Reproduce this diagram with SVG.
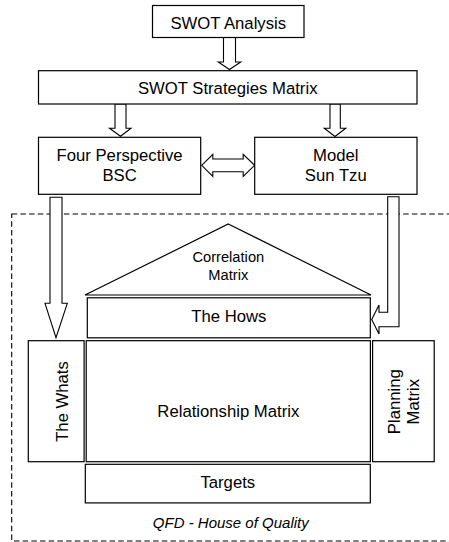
<svg xmlns="http://www.w3.org/2000/svg" width="449" height="542" viewBox="0 0 449 542">
<style>
.box{fill:#fff;stroke:#000;stroke-width:1.2}
.arr{fill:#fff;stroke:#000;stroke-width:1.1;stroke-linejoin:miter}
text{font-family:"Liberation Sans",Arial,sans-serif;font-size:16.7px;fill:#000;text-anchor:middle}
.sm{font-size:14.7px}
.it{font-size:15px;font-style:italic}
</style>
<rect width="449" height="542" fill="#fff"/>
<g id="frame">
<rect x="11.7" y="214" width="445" height="327" fill="none" stroke="#000" stroke-width="1.1" stroke-dasharray="5.5,3.2"/>
<text class="it" x="230.8" y="528.3">QFD - House of Quality</text>
</g>
<g id="connectors">
<polygon class="arr" points="223.5,37.5 235.5,37.5 235.5,62 240.7,62 229.5,69.5 218.3,62 223.5,62"/>
<polygon class="arr" points="115,104 126,104 126,128.3 131,128.3 120.5,136.3 109.5,128.3 115,128.3"/>
<polygon class="arr" points="330,104 340.3,104 340.3,128.3 345.7,128.3 335,136.5 324.3,128.3 330,128.3"/>
<polygon class="arr" points="201.7,165.3 212.8,154.3 212.8,159 243.2,159 243.2,154.3 254.6,165.3 243.2,176.4 243.2,171.7 212.8,171.7 212.8,176.4"/>
<polygon class="arr" points="50,197.3 62,197.3 62,303.3 67.3,303.3 56,337.7 45,303.3 50,303.3"/>
<polygon class="arr" points="387.7,196.7 399,196.7 399,326.7 379,326.7 379,334 371.7,319.5 379,305 379,312.3 387.7,312.3"/>
</g>
<g id="swot-analysis">
<rect class="box" x="152.5" y="5.5" width="151.5" height="32"/>
<text x="228.3" y="29">SWOT Analysis</text>
</g>
<g id="swot-strategies">
<rect class="box" x="38.5" y="70.7" width="378.5" height="33.3"/>
<text x="227.7" y="93.8">SWOT Strategies Matrix</text>
</g>
<g id="bsc">
<rect class="box" x="38.5" y="137.3" width="162.2" height="57"/>
<text x="119.6" y="161">Four Perspective</text>
<text x="119.6" y="181">BSC</text>
</g>
<g id="suntzu">
<rect class="box" x="254.7" y="137.3" width="162.3" height="57"/>
<text x="335.8" y="161">Model</text>
<text x="335.8" y="181">Sun Tzu</text>
</g>
<g id="correlation">
<polygon class="box" points="228.3,224 371,295 85,295"/>
<text class="sm" x="228.3" y="262.3">Correlation</text>
<text class="sm" x="228.3" y="280">Matrix</text>
</g>
<g id="hows">
<rect class="box" x="87.3" y="297.8" width="283" height="40"/>
<text x="228.8" y="321.7">The Hows</text>
</g>
<g id="whats">
<rect class="box" x="28.3" y="340.7" width="55.8" height="121"/>
<text transform="translate(67.6,401.5) rotate(-90)" x="0" y="0">The Whats</text>
</g>
<g id="relationship">
<rect class="box" x="86.2" y="340.7" width="284.2" height="121"/>
<text x="228.3" y="416.7">Relationship Matrix</text>
</g>
<g id="planning">
<rect class="box" x="372.6" y="340.7" width="61.6" height="121"/>
<text transform="translate(400.4,401.7) rotate(-90)" x="0" y="0">Planning</text>
<text transform="translate(418.8,401.7) rotate(-90)" x="0" y="0">Matrix</text>
</g>
<g id="targets">
<rect class="box" x="85.3" y="464.3" width="285" height="38.6"/>
<text x="227.8" y="487.7">Targets</text>
</g>
</svg>
